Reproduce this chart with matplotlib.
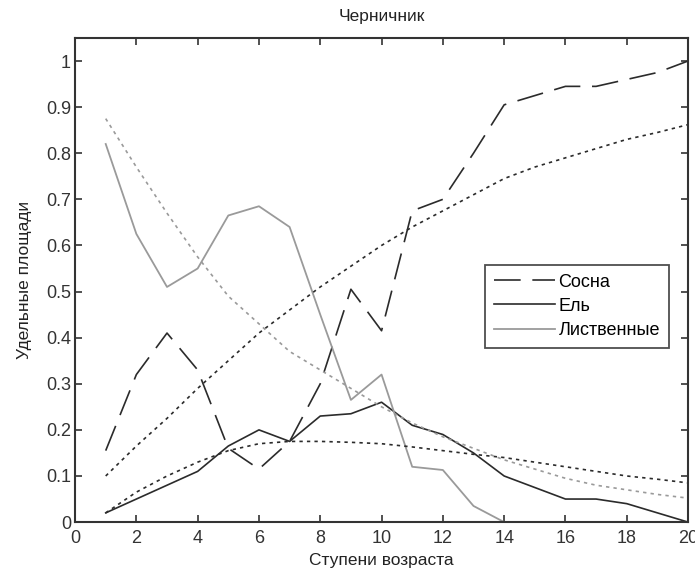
import matplotlib
matplotlib.use("Agg")
import matplotlib.pyplot as plt

plt.rcParams['font.family'] = ['Liberation Sans', 'DejaVu Sans']

x = list(range(1, 21))

# observed shares by age step
sosna = [0.155, 0.32, 0.41, 0.33, 0.16, 0.115, 0.175, 0.30, 0.505, 0.415,
         0.675, 0.70, 0.80, 0.905, 0.925, 0.945, 0.945, 0.96, 0.975, 1.0]
el = [0.02, 0.05, 0.08, 0.11, 0.165, 0.20, 0.175, 0.23, 0.235, 0.26,
      0.21, 0.19, 0.15, 0.10, 0.075, 0.05, 0.05, 0.04, 0.02, 0.0]
x_list = list(range(1, 15))
listv = [0.82, 0.625, 0.51, 0.55, 0.665, 0.685, 0.64, 0.45, 0.265, 0.32,
         0.12, 0.113, 0.035, 0.0]

# fitted trends (dotted)
sosna_fit = [0.10, 0.165, 0.225, 0.29, 0.35, 0.41, 0.46, 0.51, 0.555, 0.60,
             0.64, 0.675, 0.71, 0.745, 0.77, 0.79, 0.81, 0.83, 0.845, 0.862]
el_fit = [0.02, 0.065, 0.10, 0.13, 0.155, 0.17, 0.175, 0.175, 0.173, 0.17,
          0.163, 0.155, 0.147, 0.14, 0.13, 0.12, 0.11, 0.10, 0.093, 0.085]
list_fit = [0.875, 0.77, 0.67, 0.575, 0.49, 0.43, 0.37, 0.33, 0.29, 0.25,
            0.215, 0.185, 0.16, 0.135, 0.115, 0.095, 0.08, 0.07, 0.06, 0.052]

dark = '#2b2b2b'
gray = '#9a9a9a'

fig = plt.figure(figsize=(6.95, 5.75), dpi=100)
ax = fig.add_axes([0.108, 0.092, 0.882, 0.842])

ax.plot(x, sosna, color=dark, lw=1.2, dashes=(16, 7), label='Сосна')
ax.plot(x, el, color=dark, lw=1.2, label='Ель')
ax.plot(x_list, listv, color=gray, lw=1.3, label='Лиственные')

ax.plot(x, sosna_fit, color=dark, lw=1.2, dashes=(2, 2.5))
ax.plot(x, el_fit, color=dark, lw=1.2, dashes=(2, 2.5))
ax.plot(x, list_fit, color=gray, lw=1.2, dashes=(2, 2.5))

ax.set_xlim(0, 20)
ax.set_ylim(0, 1.05)
ax.set_xticks(range(0, 21, 2))
ax.set_yticks([0, 0.1, 0.2, 0.3, 0.4, 0.5, 0.6, 0.7, 0.8, 0.9, 1])
ax.set_yticklabels(['0', '0.1', '0.2', '0.3', '0.4', '0.5', '0.6', '0.7', '0.8', '0.9', '1'])
ax.tick_params(direction='in', top=True, right=True, length=5, width=1.2,
               labelsize=13, colors='#333333', pad=3)
ax.tick_params(axis='x', pad=6)
for s in ax.spines.values():
    s.set_linewidth(1.5)
    s.set_color('#333333')

ax.set_title('Черничник', fontsize=12.5, color='#222222', pad=12)
ax.set_xlabel('Ступени возраста', fontsize=12.5, color='#222222', labelpad=4)
ax.set_ylabel('Удельные площади', fontsize=12.5, color='#222222', labelpad=10)

leg = ax.legend(loc='upper left', bbox_to_anchor=(0.668, 0.532), fontsize=13,
                frameon=True, fancybox=False, handlelength=3.4, handletextpad=0.2,
                borderpad=0.5, labelspacing=0.4, borderaxespad=0)
leg.get_frame().set_edgecolor('#222222')
leg.get_frame().set_linewidth(1.3)

fig.savefig('out.png', dpi=100)
